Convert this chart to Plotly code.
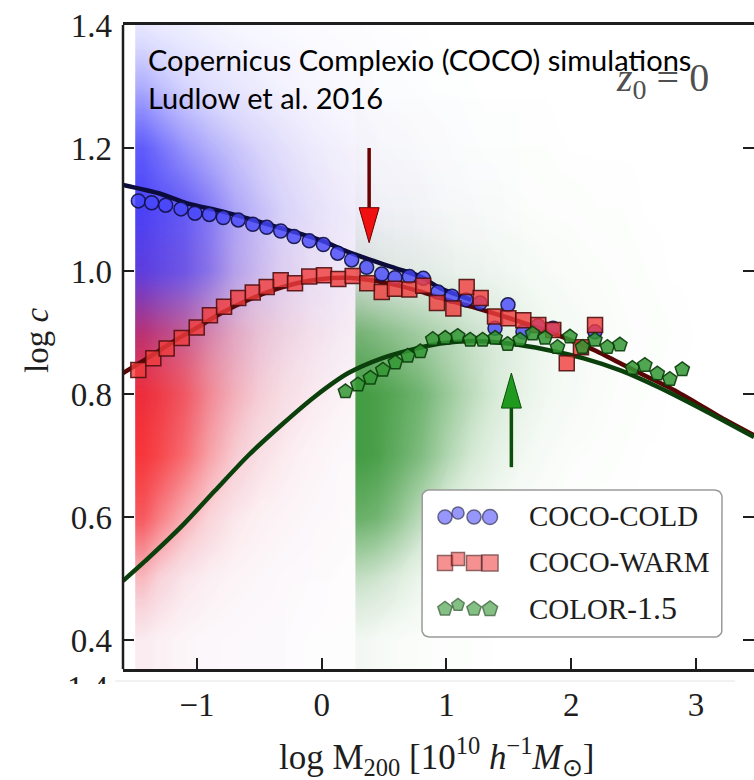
import plotly.graph_objects as go
import math

# ---------------- data ----------------
# binned medians
cold_x = [-1.470, -1.363, -1.251, -1.128, -1.016, -0.901, -0.789, -0.669, -0.553, -0.441,
          -0.329, -0.222, -0.100, 0.013, 0.128, 0.240, 0.360, 0.481, 0.587, 0.702,
          0.814, 0.932, 1.044, 1.157, 1.269, 1.389, 1.493, 1.613, 1.734, 1.854, 2.190]
cold_y = [1.114, 1.111, 1.107, 1.101, 1.094, 1.092, 1.087, 1.083, 1.076, 1.071,
          1.065, 1.056, 1.049, 1.043, 1.029, 1.018, 1.006, 0.995, 0.989, 0.991,
          0.988, 0.966, 0.959, 0.953, 0.948, 0.907, 0.945, 0.901, 0.911, 0.907, 0.901]

warm_x = [-1.470, -1.350, -1.243, -1.122, -1.002, -0.896, -0.783, -0.669, -0.553, -0.441,
          -0.329, -0.214, -0.100, 0.018, 0.133, 0.248, 0.365, 0.481, 0.587, 0.702,
          0.814, 0.924, 1.055, 1.162, 1.274, 1.389, 1.496, 1.616, 1.736, 1.856,
          1.964, 2.078, 2.191]
warm_y = [0.839, 0.858, 0.874, 0.891, 0.908, 0.928, 0.942, 0.956, 0.965, 0.974,
          0.985, 0.980, 0.991, 0.993, 0.987, 0.992, 0.980, 0.966, 0.971, 0.970,
          0.976, 0.948, 0.939, 0.974, 0.956, 0.926, 0.923, 0.920, 0.912, 0.904,
          0.850, 0.876, 0.912]

color_x = [0.19, 0.29, 0.39, 0.49, 0.59, 0.69, 0.79, 0.89, 0.99, 1.09,
           1.19, 1.29, 1.39, 1.49, 1.59, 1.69, 1.79, 1.89, 1.99, 2.09,
           2.19, 2.29, 2.39, 2.49, 2.59, 2.69, 2.79, 2.89]
color_y = [0.804, 0.815, 0.826, 0.839, 0.851, 0.862, 0.869, 0.889, 0.891, 0.894,
           0.888, 0.888, 0.891, 0.881, 0.888, 0.898, 0.891, 0.876, 0.893, 0.876,
           0.888, 0.876, 0.880, 0.842, 0.847, 0.833, 0.824, 0.840]

# model curves
cold_line_x = [-1.593, -1.30, -1.08, -0.80, -0.55, -0.30, -0.01, 0.20, 0.39, 0.60, 0.79, 0.95, 1.20]
cold_line_y = [1.140, 1.126, 1.110, 1.097, 1.083, 1.068, 1.050, 1.032, 1.018, 1.004, 0.991, 0.972, 0.953]

warm_line_x = [-1.593, -1.4, -1.2, -1.0, -0.8, -0.6, -0.4, -0.2, 0.0, 0.2, 0.4, 0.6, 0.8, 1.0,
               1.2, 1.4, 1.6, 1.8, 2.0, 2.2, 2.4, 2.6, 2.8, 3.0, 3.2, 3.465]
warm_line_y = [0.834, 0.858, 0.884, 0.908, 0.932, 0.952, 0.968, 0.980, 0.987, 0.989, 0.985, 0.977,
               0.966, 0.953, 0.942, 0.930, 0.917, 0.903, 0.887, 0.870, 0.849, 0.829, 0.809,
               0.786, 0.762, 0.733]

color_line_x = [-1.593, -1.39, -1.122, -0.855, -0.589, -0.321, -0.054, 0.213, 0.481, 0.721,
                0.95, 1.2, 1.5, 1.8, 2.1, 2.4, 2.7, 3.06, 3.465]
color_line_y = [0.496, 0.533, 0.585, 0.643, 0.700, 0.750, 0.796, 0.834, 0.858, 0.872,
                0.882, 0.886, 0.882, 0.872, 0.858, 0.838, 0.811, 0.774, 0.730]

# point-cloud densities (0..1) read per cell, rows = cloud_y
cloud_y = [0.4, 0.5, 0.6, 0.7, 0.8, 0.9, 1.0, 1.1, 1.2, 1.3, 1.4]
cocox = [-1.43, -1.3, -1.1, -0.9, -0.7, -0.5, -0.3, -0.1, 0.1, 0.3, 0.5, 0.7, 0.9, 1.1, 1.3, 1.5]
cold_density = [
    [0.05, 0.04, 0.03, 0.03, 0.02, 0.02, 0.02, 0.01, 0.01, 0.01, 0, 0, 0, 0, 0, 0],
    [0.08, 0.06, 0.05, 0.04, 0.03, 0.03, 0.02, 0.02, 0.01, 0.01, 0.01, 0, 0, 0, 0, 0],
    [0.15, 0.10, 0.07, 0.05, 0.04, 0.03, 0.03, 0.02, 0.02, 0.01, 0.01, 0.01, 0, 0, 0, 0],
    [0.25, 0.18, 0.12, 0.09, 0.07, 0.05, 0.04, 0.03, 0.02, 0.02, 0.01, 0.01, 0.01, 0, 0, 0],
    [0.55, 0.40, 0.28, 0.18, 0.13, 0.10, 0.07, 0.05, 0.04, 0.03, 0.02, 0.02, 0.01, 0.01, 0, 0],
    [0.88, 0.75, 0.60, 0.42, 0.30, 0.20, 0.15, 0.12, 0.10, 0.07, 0.05, 0.04, 0.03, 0.02, 0.01, 0.01],
    [0.97, 0.92, 0.85, 0.70, 0.50, 0.38, 0.28, 0.20, 0.15, 0.12, 0.09, 0.07, 0.05, 0.03, 0.02, 0.01],
    [0.97, 0.92, 0.85, 0.70, 0.52, 0.40, 0.30, 0.22, 0.16, 0.12, 0.09, 0.07, 0.05, 0.03, 0.02, 0.01],
    [0.85, 0.75, 0.60, 0.48, 0.38, 0.30, 0.22, 0.16, 0.12, 0.09, 0.06, 0.05, 0.03, 0.02, 0.01, 0.01],
    [0.50, 0.42, 0.32, 0.25, 0.20, 0.15, 0.11, 0.08, 0.06, 0.05, 0.03, 0.02, 0.01, 0.01, 0, 0],
    [0.20, 0.17, 0.14, 0.11, 0.08, 0.06, 0.05, 0.04, 0.03, 0.02, 0.01, 0.01, 0, 0, 0, 0],
]
warm_density = [
    [0.12, 0.09, 0.06, 0.04, 0.03, 0.02, 0.02, 0.01, 0.01, 0.01, 0, 0, 0, 0, 0, 0],
    [0.40, 0.28, 0.16, 0.10, 0.07, 0.05, 0.03, 0.02, 0.02, 0.01, 0.01, 0, 0, 0, 0, 0],
    [0.80, 0.65, 0.45, 0.28, 0.16, 0.10, 0.07, 0.05, 0.03, 0.02, 0.01, 0.01, 0, 0, 0, 0],
    [0.95, 0.88, 0.72, 0.50, 0.32, 0.20, 0.13, 0.08, 0.05, 0.03, 0.02, 0.01, 0.01, 0, 0, 0],
    [0.95, 0.90, 0.78, 0.58, 0.42, 0.30, 0.20, 0.14, 0.09, 0.06, 0.04, 0.02, 0.01, 0.01, 0, 0],
    [0.70, 0.65, 0.58, 0.48, 0.38, 0.30, 0.22, 0.16, 0.11, 0.08, 0.05, 0.03, 0.02, 0.01, 0.01, 0],
    [0.25, 0.22, 0.20, 0.18, 0.16, 0.14, 0.12, 0.10, 0.08, 0.06, 0.04, 0.03, 0.02, 0.01, 0.01, 0],
    [0.08, 0.08, 0.08, 0.08, 0.07, 0.06, 0.05, 0.05, 0.04, 0.03, 0.02, 0.02, 0.01, 0.01, 0, 0],
    [0.03, 0.03, 0.03, 0.03, 0.03, 0.03, 0.03, 0.02, 0.02, 0.02, 0.01, 0.01, 0.01, 0, 0, 0],
    [0.01, 0.01, 0.01, 0.01, 0.01, 0.01, 0.01, 0.01, 0.01, 0.01, 0, 0, 0, 0, 0, 0],
    [0, 0, 0, 0, 0, 0, 0, 0, 0, 0, 0, 0, 0, 0, 0, 0],
]
colorx = [0.33, 0.45, 0.6, 0.8, 1.0, 1.2, 1.4, 1.6, 1.8, 2.0, 2.2, 2.4, 2.6, 2.8, 3.0, 3.2, 3.4]
color_density = [
    [0.10, 0.08, 0.06, 0.04, 0.03, 0.02, 0.01, 0.01, 0.01, 0, 0, 0, 0, 0, 0, 0, 0],
    [0.38, 0.34, 0.26, 0.15, 0.08, 0.05, 0.03, 0.02, 0.01, 0.01, 0.01, 0, 0, 0, 0, 0, 0],
    [0.78, 0.74, 0.62, 0.42, 0.25, 0.14, 0.09, 0.05, 0.03, 0.02, 0.01, 0.01, 0.01, 0, 0, 0, 0],
    [0.95, 0.92, 0.82, 0.68, 0.48, 0.32, 0.20, 0.12, 0.07, 0.04, 0.03, 0.02, 0.01, 0.01, 0, 0, 0],
    [0.95, 0.92, 0.85, 0.74, 0.58, 0.42, 0.30, 0.19, 0.12, 0.08, 0.05, 0.03, 0.02, 0.01, 0.01, 0, 0],
    [0.70, 0.66, 0.60, 0.52, 0.44, 0.36, 0.28, 0.20, 0.13, 0.09, 0.06, 0.04, 0.03, 0.02, 0.01, 0.01, 0],
    [0.25, 0.22, 0.20, 0.18, 0.16, 0.14, 0.12, 0.10, 0.07, 0.05, 0.04, 0.03, 0.02, 0.01, 0.01, 0, 0],
    [0.06, 0.06, 0.06, 0.06, 0.06, 0.05, 0.05, 0.04, 0.03, 0.03, 0.02, 0.02, 0.01, 0.01, 0, 0, 0],
    [0.02, 0.02, 0.02, 0.02, 0.02, 0.02, 0.02, 0.02, 0.02, 0.01, 0.01, 0.01, 0.01, 0, 0, 0, 0],
    [0.01, 0.01, 0.01, 0.01, 0.01, 0.01, 0.01, 0.01, 0.01, 0, 0, 0, 0, 0, 0, 0, 0],
    [0, 0, 0, 0, 0, 0, 0, 0, 0, 0, 0, 0, 0, 0, 0, 0, 0],
]

# arrows (x position, tail, tip)
arrow_x = [0.38, 1.52]
arrow_tail = [1.200, 0.681]
arrow_tip = [1.046, 0.834]

x_ticks = [-1, 0, 1, 2, 3]
x_ticktext = ["−1", "0", "1", "2", "3"]
y_ticks = [0.4, 0.6, 0.8, 1.0, 1.2, 1.4]
y_ticktext = ["0.4", "0.6", "0.8", "1.0", "1.2", "1.4"]

series_names = ["COCO-COLD", "COCO-WARM", "COLOR-<span style='font-size:32px'>1.5</span>"]

# ---------------- layout geometry ----------------
W, H = 754, 780
L, R, T, B = 123, 754, 25, 669
X_RANGE = [-1.593, 3.465]
Y_RANGE = [0.3528, 1.4]
SERIF = "Liberation Serif, Times New Roman, serif"
SANS = "Lato, Carlito, Calibri, sans-serif"
INK = "#1e1e1e"


def fx(p):
    return (p - L) / (R - L)


def fy(p):
    return (B - p) / (B - T)


fig = go.Figure()

# point clouds (density -> opacity)
for xs, dens, rgb in [(cocox, cold_density, "40,40,255"),
                      (cocox, warm_density, "250,25,25"),
                      (colorx, color_density, "35,140,35")]:
    cs = [[0, f"rgba({rgb},0)"], [0.1, f"rgba({rgb},0.05)"], [0.3, f"rgba({rgb},0.18)"],
          [0.5, f"rgba({rgb},0.38)"], [0.75, f"rgba({rgb},0.65)"], [1, f"rgba({rgb},0.9)"]]
    fig.add_trace(go.Heatmap(
        x=xs, y=cloud_y, z=dens, zmin=0, zmax=1, zsmooth="best",
        colorscale=cs, showscale=False, hoverinfo="skip"))

# model curves
for xs, ys, c in [(cold_line_x, cold_line_y, "#0b0b3c"),
                  (warm_line_x, warm_line_y, "#5a0505"),
                  (color_line_x, color_line_y, "#0b3f0b")]:
    fig.add_trace(go.Scatter(x=xs, y=ys, mode="lines",
                             line=dict(color=c, width=4.5, shape="spline", smoothing=0.7),
                             hoverinfo="skip", showlegend=False))

# binned medians
marker_styles = [
    dict(symbol="circle", size=14, color="rgba(70,70,250,0.8)",
         line=dict(color="rgba(15,15,70,0.9)", width=1.5)),
    dict(symbol="square", size=15, color="rgba(240,60,60,0.8)",
         line=dict(color="rgba(80,15,15,0.9)", width=1.5)),
    dict(symbol="pentagon", size=15, color="rgba(50,150,50,0.85)",
         line=dict(color="rgba(10,60,10,0.9)", width=1.5)),
]
for xs, ys, ms in zip([cold_x, warm_x, color_x], [cold_y, warm_y, color_y], marker_styles):
    fig.add_trace(go.Scatter(x=xs, y=ys, mode="markers", marker=ms,
                             hoverinfo="skip", showlegend=False))

# ---------------- manual legend (pixel overlay axes) ----------------
box = (422, 490, 722, 637)
rad = 7
bx, by = [], []
corners = [(box[2] - rad, box[1] + rad, -90, 0), (box[2] - rad, box[3] - rad, 0, 90),
           (box[0] + rad, box[3] - rad, 90, 180), (box[0] + rad, box[1] + rad, 180, 270)]
for cx, cy, a0, a1 in corners:
    for k in range(7):
        a = math.radians(a0 + (a1 - a0) * k / 6)
        bx.append(cx + rad * math.cos(a))
        by.append(cy + rad * math.sin(a))
bx.append(bx[0]); by.append(by[0])
fig.add_trace(go.Scatter(x=bx, y=by, xaxis="x2", yaxis="y2", mode="lines", fill="toself",
                         fillcolor="white", line=dict(color="#9a9a9a", width=1.5),
                         hoverinfo="skip", showlegend=False))
row_y = [516, 562, 608]
sym_dx = [445, 458, 474, 490]
sym_dy = [1, -3, 1, 1]
sym_sz = [0, -2, 0, 1]
for ry, ms, name in zip(row_y, marker_styles, series_names):
    m = dict(ms)
    m["size"] = [ms["size"] + s for s in sym_sz]
    fig.add_trace(go.Scatter(x=sym_dx, y=[ry + d for d in sym_dy], xaxis="x2", yaxis="y2",
                             mode="markers", marker=m, hoverinfo="skip", showlegend=False))

annotations = []
for ry, name in zip(row_y, series_names):
    annotations.append(dict(x=527, y=ry, xref="x2", yref="y2", text=name, showarrow=False,
                            xanchor="left", yanchor="middle",
                            font=dict(family=SERIF, size=29, color=INK)))

# arrows
shapes = []
head_half = 10 / (R - L) * (X_RANGE[1] - X_RANGE[0])
head_len = 35 / (B - T) * (Y_RANGE[1] - Y_RANGE[0])
for ax_, tl, tp, shaft_c, head_c in zip(arrow_x, arrow_tail, arrow_tip,
                                         ["#6a0000", "#0b4f0b"], ["#f01010", "#1f9a1f"]):
    sgn = 1 if tl > tp else -1
    base = tp + sgn * head_len
    shapes.append(dict(type="line", xref="x", yref="y", x0=ax_, x1=ax_, y0=tl, y1=base,
                       line=dict(color=shaft_c, width=3.5), layer="above"))
    shapes.append(dict(type="path", xref="x", yref="y", layer="above",
                       path=f"M {ax_ - head_half} {base} L {ax_ + head_half} {base} L {ax_} {tp} Z",
                       fillcolor=head_c, line=dict(color=shaft_c, width=1)))

# left spine
shapes.append(dict(type="line", xref="paper", yref="paper", x0=0, x1=0, y0=0, y1=1,
                   line=dict(color=INK, width=2.5), layer="above"))
# faint crop line below
shapes.append(dict(type="line", xref="paper", yref="paper", x0=fx(115), x1=fx(735),
                   y0=fy(681), y1=fy(681), line=dict(color="#e4e4e4", width=1)))

# texts
annotations += [
    dict(x=fx(146), y=fy(72), xref="paper", yref="paper", xanchor="left", yanchor="bottom",
         text="Copernicus Complexio (COCO) simulations", showarrow=False,
         font=dict(family=SANS, size=29, color="black"), yshift=-7),
    dict(x=fx(146), y=fy(110), xref="paper", yref="paper", xanchor="left", yanchor="bottom",
         text="Ludlow et al. 2016", showarrow=False,
         font=dict(family=SANS, size=29, color="black"), yshift=-7),
    dict(x=fx(662), y=fy(80), xref="paper", yref="paper", xanchor="center", yanchor="middle",
         text="<i>z</i><sub>0</sub> = 0", showarrow=False,
         font=dict(family=SERIF, size=40, color="rgba(55,55,55,0.9)")),
    dict(x=fx(37), y=fy(340), xref="paper", yref="paper", xanchor="center", yanchor="middle",
         text="log <i>c</i>", textangle=-90, showarrow=False,
         font=dict(family=SERIF, size=33, color=INK)),
    dict(x=fx(436), y=fy(756), xref="paper", yref="paper", xanchor="center", yanchor="middle",
         text="log M<sub>200</sub> [10<sup>10</sup> <i>h</i><sup>−1</sup><i>M</i><sub>⊙</sub>]",
         showarrow=False, font=dict(family=SERIF, size=35, color=INK)),
    dict(x=fx(110), y=fy(668), xref="paper", yref="paper", xanchor="right", yanchor="top",
         text="1.4", showarrow=False, height=14, valign="top",
         font=dict(family=SERIF, size=33, color=INK)),
]

fig.update_layout(
    width=W, height=H, margin=dict(l=L, r=W - R, t=T, b=H - B),
    paper_bgcolor="white", plot_bgcolor="white", showlegend=False,
    xaxis=dict(range=X_RANGE, showgrid=False, zeroline=False, showline=True, mirror=True,
               linecolor=INK, linewidth=2.5, ticks="inside", ticklen=11, tickwidth=1.5,
               tickcolor=INK, tickvals=x_ticks, ticktext=x_ticktext, ticklabelstandoff=5,
               tickfont=dict(family=SERIF, size=33, color=INK)),
    yaxis=dict(range=Y_RANGE, showgrid=False, zeroline=False, showline=False, mirror="ticks",
               ticks="inside", ticklen=11, tickwidth=1.5, tickcolor=INK,
               tickvals=y_ticks, ticktext=y_ticktext, ticklabelstandoff=10,
               tickfont=dict(family=SERIF, size=33, color=INK)),
    xaxis2=dict(overlaying="x", range=[L, R], visible=False, anchor="y2"),
    yaxis2=dict(overlaying="y", range=[B, T], visible=False, anchor="x2"),
    shapes=shapes, annotations=annotations,
)

fig.write_html("out.html", config={"displayModeBar": False},
               post_script="document.body.style.margin='0px';")
